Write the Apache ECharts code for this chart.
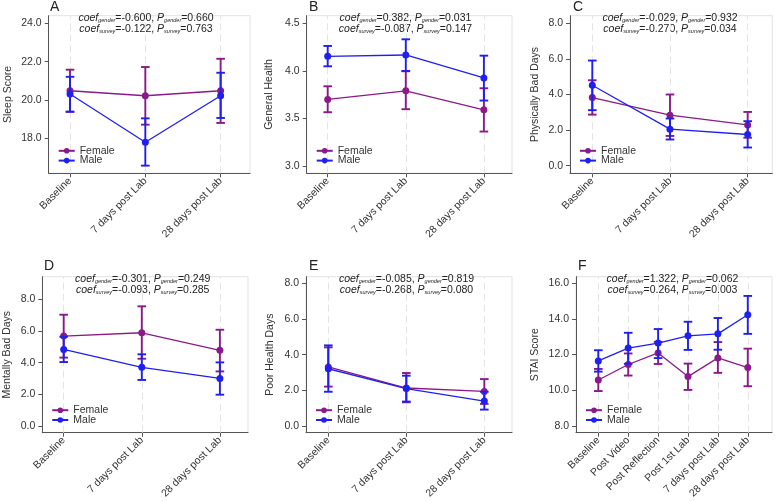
<!DOCTYPE html>
<html><head><meta charset="utf-8">
<script src="https://cdn.jsdelivr.net/npm/echarts@6/dist/echarts.min.js"></script>
<style>html,body{margin:0;padding:0;background:#fff}#c{width:778px;height:502px}</style>
</head><body><div id="c"></div>
<script>
// ---------- DATA ----------
const cats3 = ['Baseline', '7 days post Lab', '28 days post Lab'];
const catsF = ['Baseline', 'Post Video', 'Post Reflection', 'Post 1st Lab', '7 days post Lab', '28 days post Lab'];
const letters = ['A', 'B', 'C', 'D', 'E', 'F'];
const yNames = ['Sleep Score', 'General Health', 'Physically Bad Days', 'Mentally Bad Days', 'Poor Health Days', 'STAI Score'];

const ticksA = [18, 20, 22, 24];
const ticksB = [3.0, 3.5, 4.0, 4.5];
const ticksC = [0, 2, 4, 6, 8];
const ticksD = [0, 2, 4, 6, 8];
const ticksE = [0, 2, 4, 6, 8];
const ticksF = [8, 10, 12, 14, 16];

// mean, lower, upper
const femMeanA = [20.48, 20.22, 20.48], femLoA = [19.38, 18.71, 18.80], femHiA = [21.58, 21.72, 22.15];
const maleMeanA = [20.31, 17.79, 20.22], maleLoA = [19.39, 16.57, 19.06], maleHiA = [21.21, 19.04, 21.42];

const femMeanB = [3.70, 3.79, 3.59], femLoB = [3.565, 3.597, 3.362], femHiB = [3.838, 3.996, 3.817];
const maleMeanB = [4.153, 4.167, 3.926], maleLoB = [4.048, 3.999, 3.688], maleHiB = [4.262, 4.332, 4.160];

const femMeanC = [3.83, 2.84, 2.29], femLoC = [2.87, 1.67, 1.57], femHiC = [4.80, 4.00, 3.02];
const maleMeanC = [4.52, 2.05, 1.75], maleLoC = [3.12, 1.47, 1.02], maleHiC = [5.91, 2.65, 2.50];

const femMeanD = [5.68, 5.89, 4.78], femLoD = [4.32, 4.25, 3.45], femHiD = [7.03, 7.56, 6.08];
const maleMeanD = [4.84, 3.71, 3.01], maleLoD = [4.04, 2.91, 1.98], maleHiD = [5.64, 4.53, 4.02];

const femMeanE = [3.31, 2.13, 1.94], femLoE = [2.21, 1.33, 1.24], femHiE = [4.41, 2.97, 2.63];
const maleMeanE = [3.21, 2.10, 1.40], maleLoE = [1.92, 1.37, 0.92], maleHiE = [4.52, 2.82, 1.92];

const femMeanF = [10.57, 11.44, 12.09, 10.76, 11.81, 11.27];
const femLoF = [9.95, 10.82, 11.47, 10.01, 10.97, 10.22];
const femHiF = [11.19, 12.06, 12.71, 11.49, 12.70, 12.33];
const maleMeanF = [11.64, 12.36, 12.64, 13.05, 13.16, 14.23];
const maleLoF = [11.04, 11.48, 11.80, 12.26, 12.27, 13.16];
const maleHiF = [12.24, 13.22, 13.43, 13.84, 14.05, 15.29];

// coef_gender, P_gender, coef_survey, P_survey
const statsA = ['-0.600', '0.660', '-0.122', '0.763'];
const statsB = ['0.382', '0.031', '-0.087', '0.147'];
const statsC = ['-0.029', '0.932', '-0.270', '0.034'];
const statsD = ['-0.301', '0.249', '-0.093', '0.285'];
const statsE = ['-0.085', '0.819', '-0.268', '0.080'];
const statsF = ['1.322', '0.062', '0.264', '0.003'];

// ---------- PANEL ASSEMBLY ----------
const panels = [
  {cats: cats3, ticks: ticksA, fm: femMeanA, fl: femLoA, fh: femHiA, mm: maleMeanA, ml: maleLoA, mh: maleHiA, st: statsA},
  {cats: cats3, ticks: ticksB, fm: femMeanB, fl: femLoB, fh: femHiB, mm: maleMeanB, ml: maleLoB, mh: maleHiB, st: statsB},
  {cats: cats3, ticks: ticksC, fm: femMeanC, fl: femLoC, fh: femHiC, mm: maleMeanC, ml: maleLoC, mh: maleHiC, st: statsC},
  {cats: cats3, ticks: ticksD, fm: femMeanD, fl: femLoD, fh: femHiD, mm: maleMeanD, ml: maleLoD, mh: maleHiD, st: statsD},
  {cats: cats3, ticks: ticksE, fm: femMeanE, fl: femLoE, fh: femHiE, mm: maleMeanE, ml: maleLoE, mh: maleHiE, st: statsE},
  {cats: catsF, ticks: ticksF, fm: femMeanF, fl: femLoF, fh: femHiF, mm: maleMeanF, ml: maleLoF, mh: maleHiF, st: statsF}
];

// ---------- LAYOUT ----------
const layout = [
  {x0: 48.7, x1: 250, y0: 15.7, y1: 173.3, xMin: -0.283, xMax: 2.39, yMin: 16.17, yMax: 24.40, gap: 35, lx: 50, ly: 7.5, ax: 146, ay: 12.5},
  {x0: 306.7, x1: 512, y0: 15.7, y1: 173.3, xMin: -0.269, xMax: 2.36, yMin: 2.923, yMax: 4.58, gap: 32, lx: 309, ly: 7.5, ax: 405.5, ay: 12.5},
  {x0: 570, x1: 772.3, y0: 15.7, y1: 173.3, xMin: -0.287, xMax: 2.317, yMin: -0.43, yMax: 8.43, gap: 29, lx: 573, ly: 7.5, ax: 670, ay: 12.5},
  {x0: 42.3, x1: 248, y0: 276.7, y1: 432.7, xMin: -0.274, xMax: 2.36, yMin: -0.42, yMax: 9.43, gap: 30, lx: 44, ly: 266.5, ax: 142.7, ay: 273.5},
  {x0: 306, x1: 512, y0: 276.7, y1: 432.7, xMin: -0.286, xMax: 2.355, yMin: -0.375, yMax: 8.37, gap: 30, lx: 309, ly: 266.5, ax: 406.5, ay: 273.5},
  {x0: 576, x1: 772, y0: 276.7, y1: 432.7, xMin: -0.746, xMax: 5.81, yMin: 7.61, yMax: 16.37, gap: 35, lx: 578, ly: 266.5, ax: 672.5, ay: 273.5}
];

const FEM = '#8a1a8a';
const MALE = '#1f1ff2';
const AX = '#555555';
const TXT = '#333333';
const FONT = 'Liberation Sans, Arial, sans-serif';

function errRender(color) {
  return function (params, api) {
    const x = api.value(0), lo = api.value(1), hi = api.value(2);
    const a = api.coord([x, lo]), b = api.coord([x, hi]);
    const w = 4.3;
    const st = {stroke: color, lineWidth: 1.9};
    return {type: 'group', children: [
      {type: 'line', shape: {x1: a[0], y1: a[1], x2: b[0], y2: b[1]}, style: st},
      {type: 'line', shape: {x1: a[0] - w, y1: a[1], x2: a[0] + w, y2: a[1]}, style: st},
      {type: 'line', shape: {x1: b[0] - w, y1: b[1], x2: b[0] + w, y2: b[1]}, style: st}
    ]};
  };
}

const grid = [], xAxis = [], yAxis = [], series = [], legend = [], graphic = [];

panels.forEach((p, i) => {
  const L = layout[i];
  const idx = p.cats.map((c, k) => k);
  grid.push({left: L.x0, top: L.y0, width: L.x1 - L.x0, height: L.y1 - L.y0,
    show: true, borderColor: '#e2e2e2', borderWidth: 1, backgroundColor: 'transparent'});
  xAxis.push({
    type: 'value', gridIndex: i, min: L.xMin, max: L.xMax,
    axisLine: {show: true, onZero: false, lineStyle: {color: AX, width: 1}},
    axisTick: {show: true, length: 4, customValues: idx, lineStyle: {color: AX}},
    axisLabel: {customValues: idx, rotate: 45, margin: 6, fontSize: 10.5, color: TXT, fontFamily: FONT,
      formatter: v => p.cats[Math.round(v)]},
    splitLine: {show: false}
  });
  yAxis.push({
    type: 'value', gridIndex: i, min: L.yMin, max: L.yMax,
    name: yNames[i], nameLocation: 'middle', nameGap: L.gap, nameRotate: 90,
    nameTextStyle: {fontSize: 10.5, color: TXT, fontFamily: FONT},
    axisLine: {show: true, onZero: false, lineStyle: {color: AX, width: 1}},
    axisTick: {show: true, length: 4, customValues: p.ticks, lineStyle: {color: AX}},
    axisLabel: {customValues: p.ticks, margin: 7, fontSize: 10.5, color: TXT, fontFamily: FONT,
      formatter: v => v.toFixed(1)},
    splitLine: {show: false}
  });
  series.push({
    type: 'custom', name: 'Female CI', xAxisIndex: i, yAxisIndex: i, z: 2, silent: true,
    renderItem: errRender(FEM), encode: {x: 0, y: [1, 2]},
    data: p.fl.map((lo, k) => [k, lo, p.fh[k]])
  });
  series.push({
    type: 'line', name: 'Female', xAxisIndex: i, yAxisIndex: i, z: 3,
    data: p.fm.map((v, k) => [k, v]),
    symbol: 'circle', symbolSize: 7,
    lineStyle: {width: 1.3, color: FEM}, itemStyle: {color: FEM},
    markLine: {silent: true, z: 1, symbol: ['none', 'none'], label: {show: false},
      lineStyle: {color: '#e4e4e4', type: [7, 4], width: 1},
      data: idx.map(k => ({xAxis: k}))}
  });
  series.push({
    type: 'custom', name: 'Male CI', xAxisIndex: i, yAxisIndex: i, z: 4, silent: true,
    renderItem: errRender(MALE), encode: {x: 0, y: [1, 2]},
    data: p.ml.map((lo, k) => [k, lo, p.mh[k]])
  });
  series.push({
    type: 'line', name: 'Male', xAxisIndex: i, yAxisIndex: i, z: 5,
    data: p.mm.map((v, k) => [k, v]),
    symbol: 'circle', symbolSize: 7,
    lineStyle: {width: 1.3, color: MALE}, itemStyle: {color: MALE}
  });
  legend.push({
    orient: 'vertical', left: L.x0 + 9, top: L.y1 - 28, padding: 0,
    data: ['Female', 'Male'], itemWidth: 16, itemHeight: 7, itemGap: -1.2,
    textStyle: {fontSize: 10.5, color: TXT, fontFamily: FONT},
    selectedMode: false
  });
  graphic.push({type: 'text', x: L.lx, y: L.ly, silent: true,
    style: {text: letters[i], fontSize: 14, fontFamily: FONT, fill: '#222', align: 'left', verticalAlign: 'middle'}});
  const s = p.st;
  const rich = {
    i: {fontSize: 10.5, fontStyle: 'italic', fontFamily: FONT, fill: '#222', lineHeight: 11},
    n: {fontSize: 10.5, fontFamily: FONT, fill: '#222', lineHeight: 11},
    s: {fontSize: 5.5, fontStyle: 'italic', fontFamily: FONT, fill: '#222', lineHeight: 11, verticalAlign: 'bottom'}
  };
  graphic.push({type: 'text', x: L.ax, y: L.ay, silent: true,
    style: {
      text: '{i|coef}{s|gender}{n|=' + s[0] + ', }{i|P}{s|gender}{n|=' + s[1] + '}\n' +
            '{i|coef}{s|survey}{n|=' + s[2] + ', }{i|P}{s|survey}{n|=' + s[3] + '}',
      rich: rich, align: 'center', verticalAlign: 'top', fontSize: 10.5, fontFamily: FONT, fill: '#222'
    }});
});

const chart = echarts.init(document.getElementById('c'), null, {renderer: 'canvas'});
chart.setOption({
  animation: false,
  backgroundColor: '#ffffff',
  textStyle: {fontFamily: FONT},
  grid, xAxis, yAxis, series, legend, graphic
});
</script>
</body></html>
